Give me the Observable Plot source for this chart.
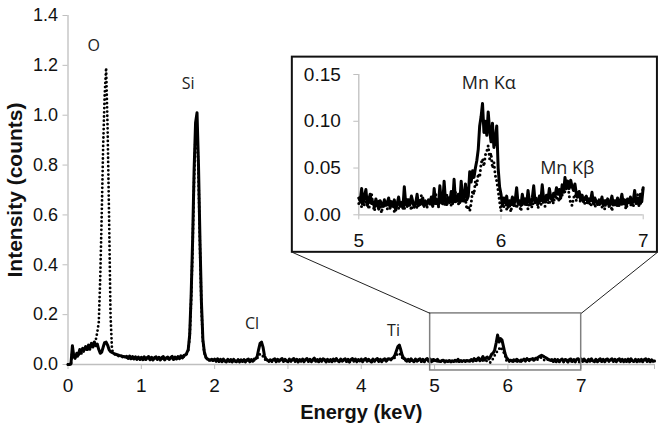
<!DOCTYPE html>
<html><head><meta charset="utf-8">
<script src="https://cdn.jsdelivr.net/npm/d3@7"></script>
<script src="https://cdn.jsdelivr.net/npm/@observablehq/plot@0.6"></script>
<style>
body{margin:0;background:#fff;}
#chart{position:relative;width:660px;height:426px;overflow:hidden;background:#fff;}
</style></head><body><div id="chart"></div>
<script>
// EDS spectrum channels: start and width of each energy channel (keV)
const energyStart = 0, energyStep = 0.02;
const solidIntensity = [
0,0,0.002,0.075,0.03,0.028,0.045,0.038,0.06,0.052,
0.065,0.058,0.072,0.06,0.078,0.066,0.085,0.07,0.09,0.075,
0.082,0.06,0.045,0.05,0.07,0.088,0.09,0.078,0.06,0.052,
0.048,0.045,0.042,0.04,0.038,0.036,0.035,0.033,0.032,0.03,
0.033,0.024,0.034,0.023,0.032,0.022,0.031,0.021,0.03,0.02,
0.029,0.019,0.031,0.02,0.028,0.032,0.019,0.029,0.018,0.028,
0.031,0.02,0.029,0.018,0.028,0.032,0.019,0.027,0.03,0.02,
0.028,0.033,0.02,0.03,0.022,0.032,0.023,0.035,0.026,0.036,
0.038,0.046,0.06,0.12,0.28,0.5,0.78,0.97,1.01,0.8,
0.5,0.25,0.1,0.05,0.03,0.022,0.02,0.017,0.021,0.016,
0.022,0.013,0.023,0.012,0.021,0.011,0.022,0.014,0.01,0.021,
0.012,0.02,0.01,0.021,0.013,0.011,0.02,0.01,0.019,0.012,
0.02,0.01,0.019,0.022,0.011,0.02,0.013,0.022,0.023,0.032,
0.06,0.085,0.09,0.07,0.035,0.022,0.017,0.014,0.019,0.013,
0.02,0.023,0.011,0.021,0.013,0.02,0.024,0.012,0.021,0.014,
0.011,0.022,0.013,0.02,0.024,0.012,0.021,0.01,0.02,0.013,
0.022,0.011,0.02,0.024,0.012,0.021,0.011,0.02,0.026,0.013,
0.02,0.011,0.022,0.013,0.023,0.02,0.01,0.021,0.012,0.02,
0.011,0.022,0.014,0.024,0.015,0.011,0.022,0.013,0.02,0.023,
0.012,0.021,0.01,0.02,0.024,0.013,0.022,0.011,0.02,0.014,
0.022,0.011,0.02,0.024,0.013,0.021,0.015,0.01,0.022,0.013,
0.02,0.024,0.012,0.021,0.011,0.02,0.023,0.013,0.022,0.023,
0.02,0.024,0.028,0.038,0.055,0.072,0.078,0.058,0.036,0.024,
0.022,0.013,0.021,0.012,0.023,0.015,0.011,0.022,0.013,0.02,
0.023,0.012,0.021,0.011,0.02,0.024,0.013,0.022,0.011,0.02,
0.018,0.015,0.021,0.013,0.012,0.016,0.017,0.01,0.015,0.012,
0.016,0.011,0.015,0.012,0.017,0.013,0.021,0.012,0.016,0.013,
0.016,0.012,0.016,0.014,0.013,0.02,0.014,0.024,0.016,0.021,
0.027,0.015,0.021,0.032,0.018,0.026,0.03,0.022,0.03,0.042,
0.046,0.058,0.086,0.118,0.09,0.104,0.098,0.072,0.045,0.028,
0.021,0.015,0.017,0.013,0.019,0.015,0.021,0.016,0.013,0.018,
0.016,0.022,0.016,0.024,0.018,0.02,0.021,0.024,0.018,0.025,
0.026,0.03,0.034,0.037,0.034,0.03,0.027,0.023,0.019,0.017,
0.02,0.012,0.021,0.011,0.02,0.011,0.018,0.022,0.012,0.02,
0.018,0.01,0.02,0.022,0.012,0.02,0.013,0.021,0.023,0.014,
0.022,0.012,0.022,0.014,0.011,0.021,0.013,0.023,0.014,0.011,
0.021,0.011,0.019,0.023,0.012,0.021,0.011,0.02,0.022,0.013,
0.019,0.023,0.012,0.021,0.011,0.02,0.023,0.012,0.021,0.011,
0.02,0.012,0.022,0.011,0.023,0.014,0.012,0.021,0.011,0.02,
0.013,0.021,0.011,0.02,0.023,0.012,0.021,0.011,0.019,0.013,
0.014];
const dottedIntensity = [
0,0,0.001,0.06,0.02,0.025,0.035,0.03,0.048,0.042,
0.055,0.05,0.062,0.054,0.068,0.06,0.074,0.08,0.092,0.1,
0.13,0.17,0.35,0.6,0.88,1.08,1.19,0.95,0.6,0.2,
0.06,0.046,0.04,0.037,0.035,0.033,0.031,0.03,0.028,0.027,
0.028,0.024,0.027,0.022,0.026,0.021,0.025,0.02,0.024,0.019,
0.024,0.018,0.025,0.02,0.023,0.026,0.019,0.024,0.017,0.023,
0.025,0.019,0.024,0.018,0.023,0.027,0.018,0.022,0.025,0.02,
0.023,0.028,0.02,0.025,0.021,0.027,0.022,0.03,0.026,0.031,
0.034,0.042,0.055,0.11,0.26,0.47,0.74,0.93,0.95,0.76,
0.47,0.23,0.09,0.045,0.028,0.02,0.017,0.015,0.019,0.014,
0.017,0.013,0.019,0.012,0.017,0.011,0.018,0.014,0.01,0.017,
0.012,0.016,0.01,0.017,0.013,0.011,0.016,0.01,0.015,0.012,
0.016,0.01,0.015,0.018,0.011,0.016,0.013,0.017,0.019,0.024,
0.034,0.042,0.04,0.032,0.022,0.016,0.014,0.012,0.017,0.011,
0.016,0.019,0.011,0.017,0.013,0.016,0.02,0.012,0.017,0.014,
0.011,0.018,0.013,0.016,0.02,0.012,0.017,0.01,0.016,0.013,
0.018,0.011,0.016,0.02,0.012,0.017,0.011,0.016,0.021,0.013,
0.016,0.011,0.018,0.013,0.019,0.016,0.01,0.017,0.012,0.016,
0.011,0.018,0.014,0.02,0.015,0.011,0.018,0.013,0.016,0.019,
0.012,0.017,0.01,0.016,0.02,0.013,0.018,0.011,0.016,0.014,
0.018,0.011,0.016,0.02,0.013,0.017,0.015,0.01,0.018,0.013,
0.016,0.02,0.012,0.017,0.011,0.016,0.019,0.013,0.018,0.02,
0.017,0.02,0.023,0.028,0.036,0.044,0.046,0.036,0.026,0.019,
0.017,0.013,0.017,0.012,0.019,0.015,0.011,0.018,0.013,0.016,
0.019,0.012,0.017,0.011,0.016,0.02,0.013,0.018,0.011,0.016,
0.012,0.016,0.012,0.013,0.011,0.014,0.01,0.014,0.009,0.013,
0.008,0.012,0.01,0.009,0.014,0.012,0.015,0.008,0.013,0.011,
0.011,0.014,0.016,0.012,0.017,0.014,0.012,0.016,0.012,0.017,
0.012,0.02,0.015,0.016,0.018,0.014,0.015,0.013,0.008,0.016,
0.024,0.036,0.043,0.058,0.062,0.07,0.06,0.05,0.038,0.016,
0.008,0.012,0.01,0.011,0.012,0.009,0.012,0.011,0.01,0.012,
0.012,0.012,0.013,0.016,0.014,0.015,0.015,0.016,0.018,0.018,
0.018,0.024,0.026,0.028,0.024,0.016,0.02,0.02,0.016,0.018,
0.014,0.013,0.014,0.012,0.013,0.012,0.013,0.012,0.01,0.012,
0.012,0.011,0.015,0.012,0.013,0.014,0.01,0.013,0.011,0.009,
0.018,0.012,0.017,0.013,0.011,0.016,0.012,0.018,0.013,0.011,
0.016,0.011,0.014,0.018,0.012,0.016,0.011,0.015,0.017,0.012,
0.014,0.018,0.012,0.016,0.011,0.015,0.018,0.012,0.016,0.011,
0.015,0.012,0.017,0.011,0.018,0.013,0.012,0.016,0.011,0.015,
0.012,0.016,0.011,0.015,0.018,0.012,0.016,0.011,0.014,0.013,
0.012];

// Inset: finer channels, 5–7 keV
const insetEnergyStart = 5, insetEnergyStep = 0.01;
const insetSolidIntensity = [
0.018,0.015,0.028,0.012,0.020,0.027,0.010,0.016,0.022,0.012,
0.014,0.008,0.017,0.011,0.006,0.015,0.012,0.009,0.016,0.011,
0.013,0.018,0.007,0.014,0.010,0.016,0.005,0.012,0.019,0.009,
0.013,0.007,0.030,0.012,0.009,0.016,0.011,0.020,0.014,0.008,
0.012,0.022,0.010,0.015,0.012,0.018,0.009,0.014,0.011,0.016,
0.013,0.019,0.009,0.028,0.012,0.016,0.010,0.031,0.015,0.012,
0.036,0.014,0.011,0.018,0.013,0.025,0.012,0.038,0.014,0.017,
0.022,0.013,0.036,0.015,0.019,0.033,0.016,0.020,0.046,0.035,
0.047,0.040,0.050,0.058,0.070,0.095,0.105,0.119,0.088,0.100,
0.085,0.110,0.090,0.078,0.098,0.072,0.080,0.095,0.050,0.030,
0.022,0.010,0.018,0.013,0.020,0.008,0.015,0.012,0.019,0.010,
0.016,0.029,0.012,0.015,0.010,0.022,0.013,0.017,0.011,0.026,
0.014,0.011,0.018,0.031,0.013,0.016,0.012,0.020,0.015,0.032,
0.017,0.014,0.021,0.016,0.028,0.019,0.015,0.023,0.020,0.029,
0.022,0.027,0.018,0.032,0.024,0.040,0.030,0.036,0.028,0.037,
0.030,0.026,0.033,0.022,0.019,0.025,0.016,0.021,0.014,0.018,
0.020,0.013,0.017,0.015,0.024,0.012,0.018,0.014,0.011,0.016,
0.013,0.019,0.010,0.015,0.012,0.017,0.009,0.014,0.020,0.011,
0.015,0.012,0.018,0.010,0.014,0.022,0.012,0.016,0.009,0.017,
0.013,0.019,0.011,0.015,0.026,0.012,0.018,0.010,0.022,0.014,
0.029];
const insetDottedIntensity = [
0.012,0.020,0.008,0.016,0.010,0.014,0.018,0.006,0.013,0.022,
0.010,0.004,0.013,0.008,0.016,0.011,0.002,0.012,0.009,0.014,
0.006,0.011,0.015,0.008,0.012,0.003,0.010,0.014,0.007,0.013,
0.009,0.016,0.006,0.012,0.018,0.008,0.011,0.005,0.014,0.010,
0.013,0.007,0.017,0.010,0.021,0.009,0.012,0.016,0.008,0.014,
0.011,0.018,0.009,0.014,0.024,0.012,0.008,0.016,0.011,0.019,
0.013,0.009,0.022,0.014,0.017,0.010,0.019,0.012,0.024,0.015,
0.011,0.018,0.014,0.021,0.013,0.017,0.006,0.010,0.004,0.012,
0.026,0.022,0.036,0.032,0.044,0.040,0.055,0.060,0.052,0.064,
0.068,0.074,0.060,0.066,0.050,0.056,0.042,0.036,0.026,0.014,
0.004,0.013,0.008,0.017,0.006,0.012,0.010,0.003,0.014,0.009,
0.012,0.007,0.015,0.010,0.004,0.013,0.018,0.009,0.011,0.006,
0.014,0.010,0.008,0.016,0.012,0.019,0.007,0.013,0.010,0.017,
0.012,0.009,0.018,0.014,0.011,0.020,0.015,0.012,0.022,0.016,
0.019,0.014,0.026,0.021,0.030,0.024,0.028,0.033,0.020,0.012,
0.010,0.018,0.022,0.015,0.024,0.019,0.013,0.021,0.016,0.012,
0.017,0.011,0.015,0.009,0.013,0.018,0.008,0.012,0.016,0.010,
0.014,0.008,0.012,0.006,0.016,0.011,0.009,0.013,0.004,0.012,
0.010,0.015,0.008,0.013,0.018,0.009,0.014,0.011,0.006,0.012,
0.016,0.010,0.013,0.008,0.019,0.011,0.022,0.014,0.010,0.024,
0.028];

const xTicks = [0,1,2,3,4,5,6,7,8];
const xTickLabels = ["0","1","2","3","4","5","6","7",""];
const yTicks = [0,0.2,0.4,0.6,0.8,1.0,1.2,1.4];
const yTickLabels = ["0.0","0.2","0.4","0.6","0.8","1.0","1.2","1.4"];
const insetXTicks = [5,6,7];
const insetXTickLabels = ["5","6","7"];
const insetYTicks = [0,0.05,0.10,0.15];
const insetYTickLabels = ["0.00","0.05","0.10","0.15"];
const xTitle = "Energy (keV)";
const yTitle = "Intensity (counts)";

const peakLabels = ["O","Si","Cl","Ti"];
const peakLabelEnergy = [0.35,1.64,2.51,4.44];
const peakLabelIntensity = [1.28,1.127,0.164,0.136];
const insetPeakLabels = ["Mn Kα","Mn Kβ"];
const insetPeakLabelEnergy = [5.914,6.466];
const insetPeakLabelIntensity = [0.1407,0.0498];

// zoom region marked on the main spectrum, and where the inset sits (main-chart units)
const zoomBoxEnergy = [4.94,7.0];
const zoomBoxIntensity = [-0.024,0.205];
const insetBoxEnergy = [3.06,8.04];
const insetBoxIntensity = [0.45,1.233];

const mainData = solidIntensity.map((v,i)=>({energy: energyStart + i*energyStep, solid: v, dotted: dottedIntensity[i]}));
const insetData = insetSolidIntensity.map((v,i)=>({energy: insetEnergyStart + i*insetEnergyStep, solid: v, dotted: insetDottedIntensity[i]}));

const axisGray = "#bfbfbf";
const textColor = "#111";
const sansFont = "'Liberation Sans', Arial, sans-serif";
const labelFont = "'Open Sans', sans-serif";

const main = Plot.plot({
  width: 660, height: 426,
  marginTop: 15, marginLeft: 67.5, marginRight: 6, marginBottom: 62,
  x: {domain: [0, 8]},
  y: {domain: [0, 1.4]},
  style: {fontFamily: sansFont, background: "transparent", overflow: "visible"},
  marks: [
    Plot.ruleY([0], {stroke: axisGray, strokeWidth: 1.3}),
    Plot.ruleX([0], {stroke: axisGray, strokeWidth: 1.3}),
    Plot.axisX(xTicks, {tickSize: 5, tickPadding: 9, fontSize: 19, stroke: axisGray, fill: textColor, label: null,
      tickFormat: d => xTickLabels[xTicks.indexOf(d)]}),
    Plot.axisY(yTicks, {tickSize: 5, tickPadding: 5, fontSize: 18, stroke: axisGray, fill: textColor, label: null,
      tickFormat: d => yTickLabels[yTicks.indexOf(d)]}),
    Plot.line(mainData, {x: "energy", y: "solid", stroke: "#000", strokeWidth: 3, strokeLinejoin: "round"}),
    Plot.line(mainData, {x: "energy", y: "dotted", stroke: "#000", strokeWidth: 2.8, strokeDasharray: "0,4.2", strokeLinecap: "round", strokeLinejoin: "round"}),
    Plot.rect([0], {x1: () => zoomBoxEnergy[0], x2: () => zoomBoxEnergy[1], y1: () => zoomBoxIntensity[0], y2: () => zoomBoxIntensity[1],
      fill: "none", stroke: "#808080", strokeWidth: 1.5}),
    Plot.link([0, 1], {x1: i => zoomBoxEnergy[i], y1: () => zoomBoxIntensity[1], x2: i => insetBoxEnergy[i], y2: () => insetBoxIntensity[0],
      stroke: "#222", strokeWidth: 1}),
    Plot.rect([0], {x1: () => insetBoxEnergy[0], x2: () => insetBoxEnergy[1], y1: () => insetBoxIntensity[0], y2: () => insetBoxIntensity[1],
      fill: "#fff", stroke: "#111", strokeWidth: 2}),
    Plot.text(peakLabels, {x: (d,i) => peakLabelEnergy[i], y: (d,i) => peakLabelIntensity[i], text: d => d,
      fontFamily: labelFont, fontSize: 16, fill: "#222"}),
    Plot.text([yTitle], {frameAnchor: "left", textAnchor: "middle", lineAnchor: "middle", rotate: -90, dx: -53, text: d => d,
      fontSize: 21, fontWeight: "bold", fill: textColor}),
    Plot.text([xTitle], {frameAnchor: "bottom", textAnchor: "middle", lineAnchor: "middle", dy: 48, text: d => d,
      fontSize: 20, fontWeight: "bold", fill: textColor})
  ]
});

const inset = Plot.plot({
  width: 362, height: 192,
  marginLeft: 65.3, marginRight: 12.3, marginTop: 16, marginBottom: 35.7,
  x: {domain: [5, 7]},
  y: {domain: [0, 0.15]},
  style: {fontFamily: sansFont, background: "transparent", overflow: "visible"},
  marks: [
    Plot.ruleY([0], {stroke: axisGray, strokeWidth: 1.3}),
    Plot.ruleX([5], {stroke: axisGray, strokeWidth: 1.3}),
    Plot.axisX(insetXTicks, {tickSize: 5, tickPadding: 14, fontSize: 19, stroke: axisGray, fill: textColor, label: null,
      tickFormat: d => insetXTickLabels[insetXTicks.indexOf(d)]}),
    Plot.axisY(insetYTicks, {tickSize: 5, tickPadding: 13, fontSize: 19, stroke: axisGray, fill: textColor, label: null,
      tickFormat: d => insetYTickLabels[insetYTicks.indexOf(d)]}),
    Plot.line(insetData, {x: "energy", y: "solid", stroke: "#000", strokeWidth: 3, strokeLinejoin: "round"}),
    Plot.line(insetData, {x: "energy", y: "dotted", stroke: "#000", strokeWidth: 3, strokeDasharray: "0,4.5", strokeLinecap: "round", strokeLinejoin: "round"}),
    Plot.text(insetPeakLabels, {x: (d,i) => insetPeakLabelEnergy[i], y: (d,i) => insetPeakLabelIntensity[i], text: d => d,
      fontFamily: labelFont, fontSize: 18, fill: "#222"})
  ]
});
inset.style.position = "absolute";
inset.style.left = "293px";
inset.style.top = "58px";

const chart = document.getElementById("chart");
main.style.position = "absolute";
main.style.left = "0px";
main.style.top = "0px";
chart.appendChild(main);
chart.appendChild(inset);
</script></body></html>
